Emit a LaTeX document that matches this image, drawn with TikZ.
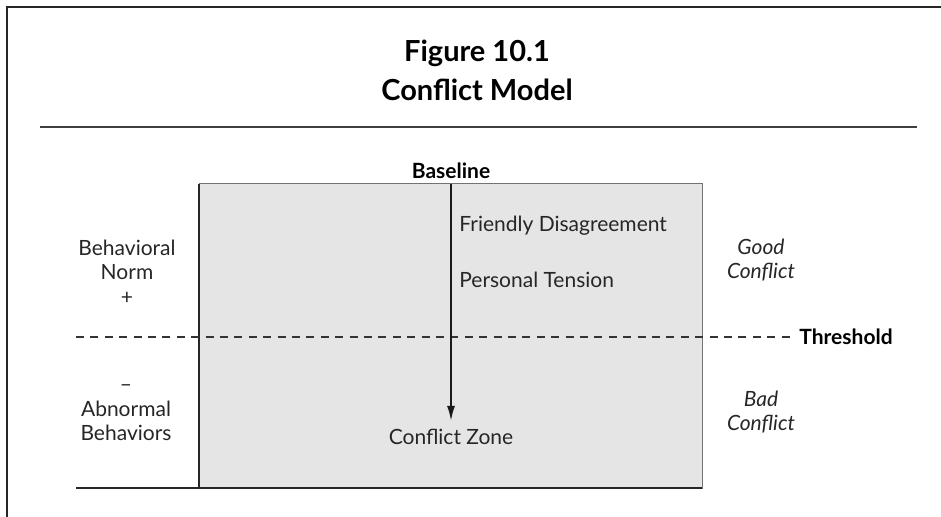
\documentclass[tikz,border=0pt]{standalone}
\usepackage{fontspec}
\setmainfont{Lato}
\usetikzlibrary{positioning,arrows.meta}

\begin{document}
\begin{tikzpicture}[x=0.5pt,y=-0.5pt,>={Latex[length=7.5pt,width=4pt]}]

    %
    % Styles for texts, lines and the zone
    %
    \tikzstyle{plainText} = [inner sep=0pt, align=center, font={\fontsize{10.5}{12.2}\selectfont}, text=black!85];
    \tikzstyle{boldText} = [plainText, font={\fontsize{10.5}{12.2}\selectfont\bfseries}, text=black];
    \tikzstyle{sideNote} = [plainText, font={\fontsize{10.5}{12.2}\selectfont\itshape}];
    \tikzstyle{titleText} = [inner sep=0pt, align=center, font={\fontsize{14.5}{17}\selectfont\bfseries}];
    \tikzstyle{frameLine} = [black!85, line width=0.8pt];
    \tikzstyle{ruleLine} = [black!75, line width=1.1pt];
    \tikzstyle{zone} = [draw=black!55, line width=0.5pt, fill=black!10!white];
    \tikzstyle{thresholdLine} = [black!80, line width=1pt, dash pattern=on 4pt off 3.2pt];
    \tikzstyle{flow} = [black!90, line width=1pt, ->];

    \useasboundingbox (0,0) rectangle (941,517);

    %
    % Frame and title
    %
    \coordinate (frameBottom) at (7,517);
    \coordinate (frameCorner) at (7,7);
    \coordinate (frameRight) at (941,7);
    \draw[frameLine] (frameBottom) -- (frameCorner) -- (frameRight);

    \node[titleText, name=figNo] at (477,53) {Figure 10.1};
    \node[titleText, name=figName, below = 6pt of figNo] {Conflict Model};

    \coordinate (ruleLeft) at (40,127);
    \coordinate (ruleRight) at (917,127);
    \draw[ruleLine] (ruleLeft) -- (ruleRight);

    %
    % Conflict zone
    %
    \coordinate (zoneTopLeft) at (199,184);
    \coordinate (zoneBottomRight) at (702,488);
    \coordinate (zoneBottomLeft) at (199,488);
    \coordinate (groundLeft) at (76,488);
    \path[zone] (zoneTopLeft) rectangle (zoneBottomRight);
    \draw[black!85, line width=0.6pt] (zoneTopLeft) -- (zoneBottomLeft);
    \draw[black!85, line width=1.2pt] (groundLeft) -- (zoneBottomRight);

    %
    % Threshold
    %
    \coordinate (threshLeft) at (76,337);
    \coordinate (threshRight) at (790,337);
    \draw[thresholdLine] (threshLeft) -- (threshRight);
    \node[boldText, name=threshold, anchor=west] at (799,337) {Threshold};

    %
    % Baseline and its arrow
    %
    \node[boldText, name=baseline] at (451,171) {Baseline};
    \coordinate (arrowTop) at (451,184);
    \coordinate (arrowEnd) at (451,421);
    \draw[flow] (arrowTop) -- (arrowEnd);

    \node[plainText, name=friendly, anchor=west] at (459,226) {Friendly Disagreement};
    \node[plainText, name=tension, anchor=west] at (459,280) {Personal Tension};
    \node[plainText, name=zoneName] at (451,437) {Conflict Zone};

    %
    % Side notes
    %
    \node[plainText, name=norm] at (127,272) {Behavioral\\Norm\\+};
    \node[plainText, name=abnormal] at (126,413) {--\\Abnormal\\Behaviors};
    \node[sideNote, name=good] at (761,260) {Good\\Conflict};
    \node[sideNote, name=bad] at (761,412) {Bad\\Conflict};

\end{tikzpicture}
\end{document}
